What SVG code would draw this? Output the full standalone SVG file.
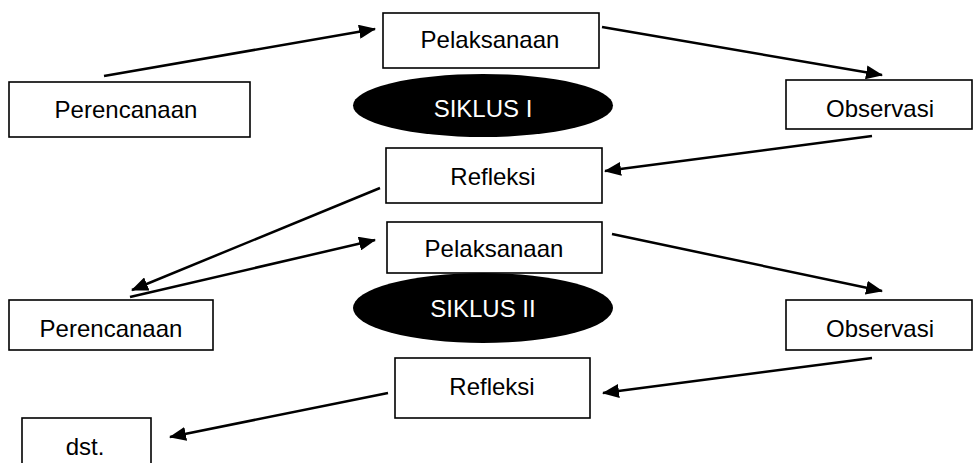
<svg xmlns="http://www.w3.org/2000/svg" width="973" height="463" viewBox="0 0 973 463">
<style>
.box{fill:#fff;stroke:#000;stroke-width:1.6}
.lbl{font-family:"Liberation Sans",Arial,sans-serif;font-size:24px;fill:#000;text-anchor:middle}
.ell{fill:#000}
.elbl{font-family:"Liberation Sans",Arial,sans-serif;font-size:24px;fill:#fff;text-anchor:middle}
.conn{stroke:#000;stroke-width:2.5;fill:none;marker-end:url(#ah)}
</style>
<defs>
<marker id="ah" markerUnits="userSpaceOnUse" markerWidth="17" markerHeight="14" refX="16" refY="7" orient="auto">
<path d="M0,0 L17,7 L0,14 z" fill="#000"/>
</marker>
</defs>
<rect width="973" height="463" fill="#fff"/>
<g id="perencanaan1"><rect class="box" x="9" y="82" width="241" height="55"/><text class="lbl" x="126" y="118">Perencanaan</text></g>
<g id="pelaksanaan1"><rect class="box" x="383" y="13" width="216" height="55"/><text class="lbl" x="490" y="48">Pelaksanaan</text></g>
<g id="siklus1"><ellipse class="ell" cx="483" cy="105.5" rx="130" ry="31.5"/><text class="elbl" x="483" y="117">SIKLUS I</text></g>
<g id="observasi1"><rect class="box" x="786" y="80" width="186" height="49"/><text class="lbl" x="880" y="117">Observasi</text></g>
<g id="refleksi1"><rect class="box" x="386" y="148" width="216" height="55"/><text class="lbl" x="493" y="185">Refleksi</text></g>
<g id="perencanaan2"><rect class="box" x="9" y="300" width="204" height="50"/><text class="lbl" x="111" y="337">Perencanaan</text></g>
<g id="pelaksanaan2"><rect class="box" x="387" y="222" width="215" height="51"/><text class="lbl" x="494" y="257">Pelaksanaan</text></g>
<g id="siklus2"><ellipse class="ell" cx="483" cy="308" rx="130" ry="35"/><text class="elbl" x="483" y="317">SIKLUS II</text></g>
<g id="observasi2"><rect class="box" x="786" y="300" width="186" height="50"/><text class="lbl" x="880" y="337">Observasi</text></g>
<g id="refleksi2"><rect class="box" x="395" y="358" width="195" height="60"/><text class="lbl" x="492" y="395">Refleksi</text></g>
<g id="dst"><rect class="box" x="22" y="418" width="129" height="50"/><text class="lbl" x="85" y="455">dst.</text></g>
<g id="connectors">
<line class="conn" x1="104" y1="76" x2="375" y2="29"/>
<line class="conn" x1="602" y1="27" x2="882" y2="75"/>
<line class="conn" x1="872" y1="136" x2="605" y2="171"/>
<line class="conn" x1="380" y1="188" x2="132" y2="290"/>
<line class="conn" x1="130" y1="297" x2="375" y2="240"/>
<line class="conn" x1="612" y1="234" x2="882" y2="291"/>
<line class="conn" x1="872" y1="358" x2="603" y2="393"/>
<line class="conn" x1="388" y1="393" x2="170" y2="437"/>
</g>
</svg>
